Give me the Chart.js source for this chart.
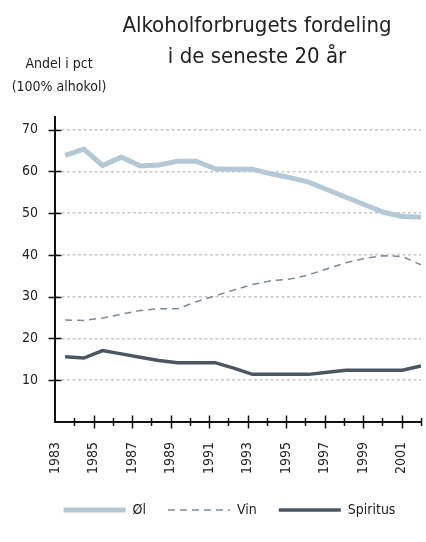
<!DOCTYPE html>
<html>
<head>
<meta charset="utf-8">
<script src="https://cdn.jsdelivr.net/npm/chart.js@4"></script>
<style>
  html, body { margin: 0; padding: 0; background: #fff; }
</style>
</head>
<body>
<canvas id="myChart" width="426" height="542"></canvas>
<script>
const years = [1983, 1984, 1985, 1986, 1987, 1988, 1989, 1990, 1991, 1992,
  1993, 1994, 1995, 1996, 1997, 1998, 1999, 2000, 2001, 2002];
const ol = [63.8, 65.3, 61.4, 63.4, 61.3, 61.5, 62.4, 62.4, 60.6, 60.5,
  60.5, 59.4, 58.5, 57.4, 55.6, 53.8, 52.0, 50.2, 49.2, 49.0];
const vin = [24.4, 24.3, 24.9, 25.8, 26.7, 27.1, 27.1, 28.8, 30.2, 31.6,
  32.9, 33.8, 34.2, 35.2, 36.7, 38.1, 39.2, 39.8, 39.6, 37.6];
const spiritus = [15.6, 15.3, 17.1, 16.3, 15.5, 14.7, 14.2, 14.2, 14.2, 12.9,
  11.4, 11.4, 11.4, 11.4, 11.9, 12.4, 12.4, 12.4, 12.4, 13.4];
const yearLabels = [1983, 1985, 1987, 1989, 1991, 1993, 1995, 1997, 1999, 2001];
const seriesNames = ["Øl", "Vin", "Spiritus"];
const titleLines = ["Alkoholforbrugets fordeling", "i de seneste 20 år"];
const unitLines = ["Andel i pct", "(100% alhokol)"];

const family = "'DejaVu Sans Condensed', 'DejaVu Sans', sans-serif";
const textColor = "#222";

const toPoints = (arr) => arr.map((v, i) => ({ x: years[i], y: v }));

// title + unit caption
const titles = {
  id: "titles",
  afterDraw(chart) {
    const { ctx } = chart;
    ctx.save();
    ctx.fillStyle = textColor;
    ctx.textAlign = "center";
    ctx.textBaseline = "alphabetic";
    ctx.font = "22px " + family;
    ctx.fillText(titleLines[0], 257, 32);
    ctx.fillText(titleLines[1], 257, 63);
    ctx.font = "14px " + family;
    ctx.fillText(unitLines[0], 59, 68);
    ctx.fillText(unitLines[1], 59, 91);
    ctx.restore();
  },
};

// ticks that cross the axis lines
const crossTicks = {
  id: "crossTicks",
  afterDraw(chart) {
    const {
      ctx,
      chartArea: { left, bottom },
      scales: { x, y },
    } = chart;
    ctx.save();
    ctx.strokeStyle = "#111";
    ctx.lineWidth = 1.5;
    ctx.beginPath();
    y.ticks.forEach((t) => {
      if (t.value > 0 && t.value <= 70) {
        const py = Math.round(y.getPixelForValue(t.value)) + 0.5;
        ctx.moveTo(left - 6.5, py);
        ctx.lineTo(left + 6.5, py);
      }
    });
    x.ticks.forEach((t) => {
      if (t.value > 1983) {
        const px = Math.round(x.getPixelForValue(t.value)) + 0.5;
        const h = t.value % 2 ? 6.5 : 4;
        ctx.moveTo(px, bottom - h);
        ctx.lineTo(px, bottom + h);
      }
    });
    ctx.stroke();
    ctx.restore();
  },
};

// nudge the legend row to the right
const legendShift = {
  id: "legendShift",
  afterLayout(chart) {
    chart.legend.left += 19;
    chart.legend.right += 19;
  },
};

const data = {
  datasets: [
    {
      label: seriesNames[0],
      data: toPoints(ol),
      xAxisID: "xd",
      borderColor: "#b5c8d6",
      backgroundColor: "#b5c8d6",
      borderWidth: 5,
      pointRadius: 0,
    },
    {
      label: seriesNames[1],
      data: toPoints(vin),
      xAxisID: "xd",
      borderColor: "#7d8a97",
      backgroundColor: "#7d8a97",
      borderWidth: 1.5,
      borderDash: [7, 5],
      pointRadius: 0,
    },
    {
      label: seriesNames[2],
      data: toPoints(spiritus),
      xAxisID: "xd",
      borderColor: "#4a5763",
      backgroundColor: "#4a5763",
      borderWidth: 3.5,
      pointRadius: 0,
    },
  ],
};

const config = {
  type: "line",
  data,
  options: {
    responsive: false,
    animation: false,
    devicePixelRatio: 1,
    layout: {
      autoPadding: false,
      padding: { left: 0, right: 5, top: 117, bottom: 15 },
    },
    scales: {
      xd: {
        type: "linear",
        display: false,
        min: 1982.46,
        max: 2002,
      },
      x: {
        type: "linear",
        position: "bottom",
        min: 1983,
        max: 2002,
        grid: { display: false, drawTicks: false },
        border: { color: "#111", width: 2 },
        ticks: {
          stepSize: 1,
          autoSkip: false,
          minRotation: 90,
          maxRotation: 90,
          padding: 20,
          color: textColor,
          font: { family, size: 14 },
          callback: (v) => (yearLabels.includes(v) ? String(v) : ""),
        },
        afterFit: (scale) => {
          scale.height = 59;
          scale.paddingLeft = 0;
          scale.paddingRight = 0;
        },
      },
      y: {
        type: "linear",
        min: 0,
        max: 73,
        grid: {
          drawTicks: false,
          lineWidth: 1.5,
          color: (c) => (c.tick.value > 0 && c.tick.value <= 70 ? "#c8c8c8" : "rgba(0,0,0,0)"),
        },
        border: { color: "#111", width: 2, dash: [3, 2.5] },
        ticks: {
          stepSize: 10,
          includeBounds: false,
          padding: 17,
          color: textColor,
          font: { family, size: 14 },
          callback: (v) => (v > 0 && v <= 70 ? String(v) : ""),
        },
        afterFit: (scale) => {
          scale.width = 55;
        },
      },
    },
    plugins: {
      legend: {
        position: "bottom",
        labels: {
          usePointStyle: true,
          pointStyle: "line",
          pointStyleWidth: 62,
          padding: 22,
          color: textColor,
          font: { family, size: 14 },
          generateLabels: (chart) =>
            Chart.defaults.plugins.legend.labels.generateLabels(chart).map((item, i) => ({
              ...item,
              lineDash: chart.data.datasets[i].borderDash || [],
              lineWidth: chart.data.datasets[i].borderWidth,
              strokeStyle: chart.data.datasets[i].borderColor,
            })),
        },
      },
      tooltip: { enabled: false },
    },
  },
  plugins: [titles, crossTicks, legendShift],
};

const myChart = new Chart(document.getElementById("myChart"), config);
</script>
</body>
</html>
